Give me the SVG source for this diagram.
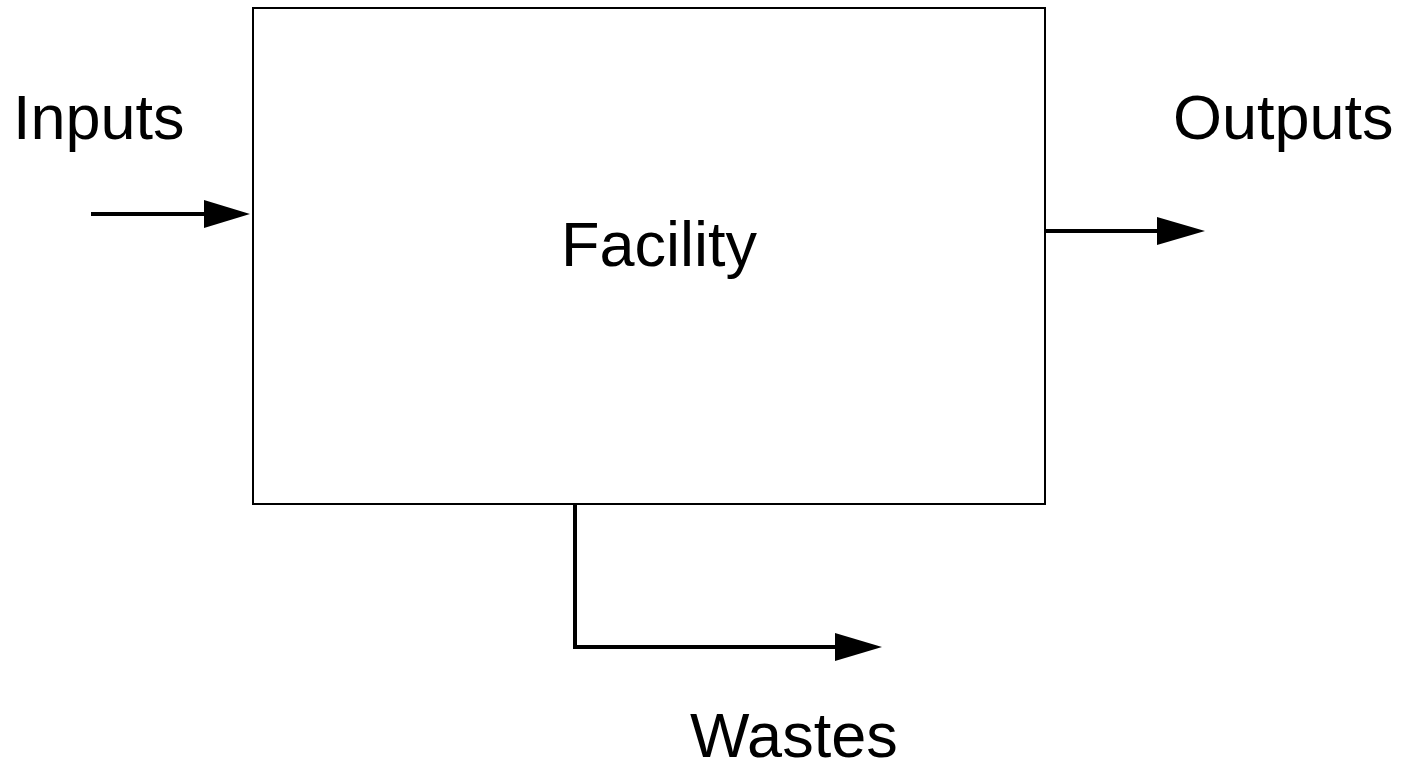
<svg xmlns="http://www.w3.org/2000/svg" width="1408" height="768" viewBox="0 0 1408 768">
  <style>
    .label { font-family: "Liberation Sans", Arial, sans-serif; font-size: 63px; fill: #000; }
    .box { fill: #fff; stroke: #000; stroke-width: 2; }
    .flow { fill: none; stroke: #000; stroke-width: 4; }
    .head { fill: #000; stroke: none; }
  </style>
  <rect width="1408" height="768" fill="#fff"/>

  <g id="facility">
    <rect class="box" x="253" y="8" width="792" height="496"/>
    <text class="label" x="561" y="266">Facility</text>
  </g>

  <g id="inputs">
    <text class="label" x="13" y="139">Inputs</text>
  </g>

  <g id="outputs">
    <text class="label" x="1173" y="139">Outputs</text>
  </g>

  <g id="wastes">
    <text class="label" x="690" y="757">Wastes</text>
  </g>

  <g id="connectors">
    <!-- inputs into facility -->
    <line class="flow" x1="91" y1="214" x2="206" y2="214"/>
    <polygon class="head" points="204,200 250,214 204,228"/>
    <!-- facility to outputs -->
    <line class="flow" x1="1045" y1="231" x2="1159" y2="231"/>
    <polygon class="head" points="1157,217 1205,231 1157,245"/>
    <!-- facility to wastes -->
    <polyline class="flow" points="575,504 575,647 837,647"/>
    <polygon class="head" points="835,633 882,647 835,661"/>
  </g>
</svg>
